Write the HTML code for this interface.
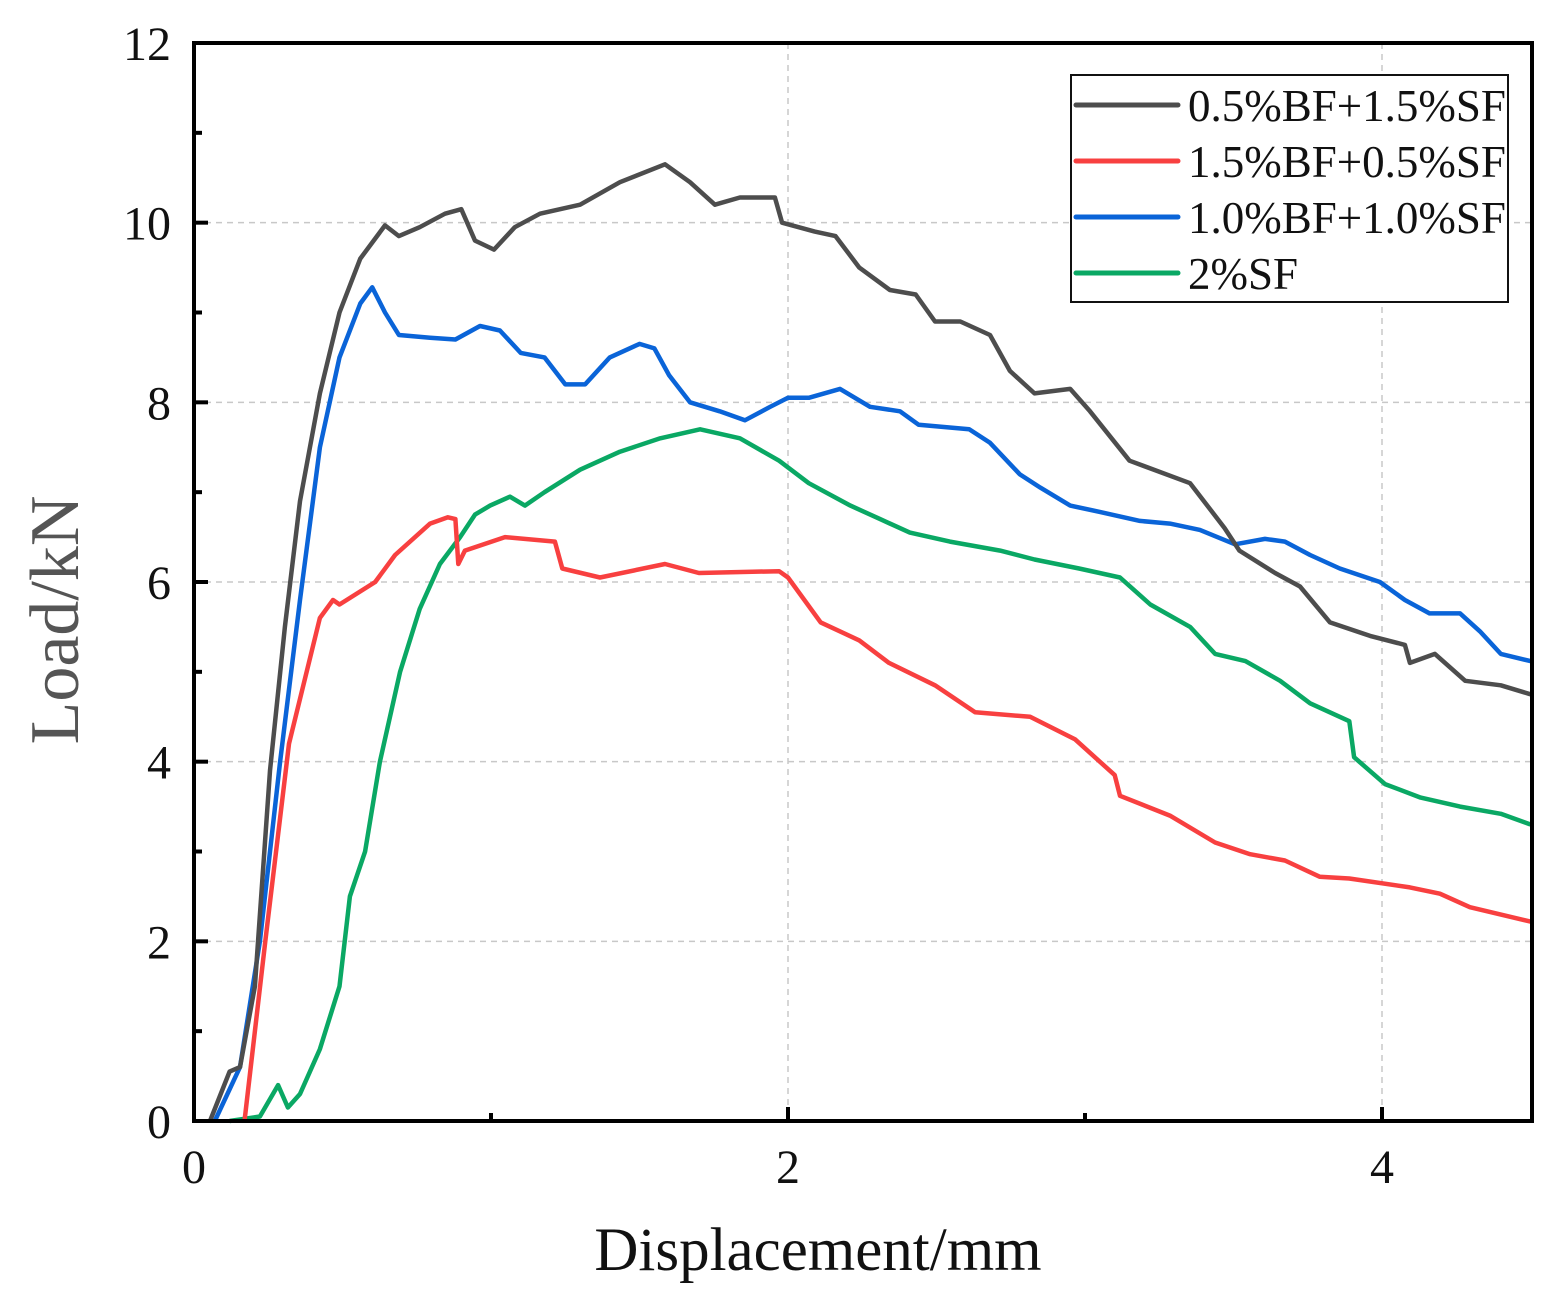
<!DOCTYPE html>
<html><head><meta charset="utf-8"><style>
html,body{margin:0;padding:0;background:#fff}
svg{display:block}
text{font-family:"Liberation Serif",serif}
</style></head><body>
<svg id="chart" width="1553" height="1302" viewBox="0 0 1553 1302" xmlns="http://www.w3.org/2000/svg">
<g id="grid"></g>
<g id="series"></g>
<rect x="194" y="43" width="1338" height="1078" fill="none" stroke="#000" stroke-width="4"/>
<g id="ticks"></g>
<text x="818" y="1270" font-size="61" text-anchor="middle" fill="#111">Displacement/mm</text>
<text transform="translate(78,620) rotate(-90)" font-size="70" text-anchor="middle" fill="#555">Load/kN</text>
<g>
<rect x="1071" y="75" width="437" height="227" fill="#fff" stroke="#111" stroke-width="2"/>
<g id="legend-items"></g>
</g>
</svg>
<script>
const xTicks=[0,2,4];
const xMinor=[1,3];
const yTicks=[0,2,4,6,8,10,12];
const yMinor=[1,3,5,7,9,11];
const seriesNames=["0.5%BF+1.5%SF","1.5%BF+0.5%SF","1.0%BF+1.0%SF","2%SF"];
const seriesColors=["#4d4d4d","#f84040","#0a64d8","#0aa864"];
const blackX=[0.054,0.12,0.155,0.205,0.256,0.306,0.357,0.424,0.49,0.56,0.643,0.69,0.76,0.845,0.9,0.946,1.01,1.08,1.165,1.3,1.434,1.586,1.67,1.754,1.838,1.956,1.98,2.09,2.16,2.24,2.343,2.43,2.495,2.58,2.68,2.747,2.83,2.95,3.017,3.15,3.354,3.47,3.52,3.64,3.724,3.825,3.96,4.077,4.094,4.178,4.28,4.4,4.5];
const blackY=[0,0.55,0.6,1.5,3.9,5.5,6.9,8.1,9.0,9.6,9.97,9.85,9.95,10.1,10.15,9.8,9.7,9.95,10.1,10.2,10.45,10.65,10.45,10.2,10.28,10.28,10.0,9.9,9.85,9.5,9.25,9.2,8.9,8.9,8.75,8.35,8.1,8.15,7.9,7.35,7.1,6.6,6.35,6.1,5.95,5.55,5.4,5.3,5.1,5.2,4.9,4.85,4.75];
const redX=[0.17,0.24,0.32,0.424,0.468,0.49,0.61,0.677,0.795,0.855,0.88,0.89,0.912,1.047,1.215,1.24,1.367,1.586,1.7,1.97,2.0,2.11,2.24,2.34,2.495,2.63,2.815,2.966,3.1,3.118,3.286,3.438,3.556,3.673,3.79,3.89,4.094,4.195,4.296,4.5];
const redY=[0,2.0,4.2,5.6,5.8,5.75,6.0,6.3,6.65,6.72,6.7,6.2,6.35,6.5,6.45,6.15,6.05,6.2,6.1,6.12,6.05,5.55,5.35,5.1,4.85,4.55,4.5,4.25,3.85,3.62,3.4,3.1,2.97,2.9,2.72,2.7,2.6,2.53,2.38,2.22];
const blueX=[0.07,0.155,0.222,0.29,0.357,0.424,0.49,0.56,0.6,0.643,0.69,0.795,0.88,0.963,1.03,1.1,1.18,1.25,1.317,1.4,1.5,1.55,1.6,1.67,1.77,1.855,1.94,2.0,2.07,2.175,2.276,2.377,2.44,2.61,2.68,2.78,2.85,2.95,3.05,3.185,3.286,3.387,3.505,3.606,3.673,3.758,3.858,3.993,4.077,4.16,4.263,4.33,4.4,4.5];
const blueY=[0,0.6,2.0,4.0,5.8,7.5,8.5,9.1,9.28,9.0,8.75,8.72,8.7,8.85,8.8,8.55,8.5,8.2,8.2,8.5,8.65,8.6,8.3,8.0,7.9,7.8,7.95,8.05,8.05,8.15,7.95,7.9,7.75,7.7,7.55,7.2,7.05,6.85,6.78,6.68,6.65,6.58,6.42,6.48,6.45,6.3,6.15,6.0,5.8,5.65,5.65,5.45,5.2,5.12];
const greenX=[0.12,0.222,0.283,0.316,0.357,0.424,0.49,0.525,0.576,0.626,0.694,0.76,0.828,0.896,0.946,0.997,1.064,1.114,1.18,1.3,1.434,1.57,1.704,1.838,1.97,2.07,2.21,2.31,2.41,2.545,2.714,2.83,2.98,3.118,3.22,3.354,3.438,3.54,3.657,3.758,3.89,3.906,4.01,4.13,4.263,4.4,4.5];
const greenY=[0,0.05,0.4,0.15,0.3,0.8,1.5,2.5,3.0,4.0,5.0,5.7,6.2,6.5,6.75,6.85,6.95,6.85,7.0,7.25,7.45,7.6,7.7,7.6,7.35,7.1,6.85,6.7,6.55,6.45,6.35,6.25,6.15,6.05,5.75,5.5,5.2,5.12,4.9,4.65,4.45,4.05,3.75,3.6,3.5,3.42,3.3];

const NS="http://www.w3.org/2000/svg";
const L=194,R=1532,T=43,B=1121,XMAX=(R-L)/297,YMAX=12;
function sx(v){return L+v/XMAX*(R-L);}
function sy(v){return B-v/YMAX*(B-T);}
function mk(tag,attrs,parent){const e=document.createElementNS(NS,tag);for(const k in attrs)e.setAttribute(k,attrs[k]);parent.appendChild(e);return e;}
const grid=document.getElementById('grid'),ticks=document.getElementById('ticks'),ser=document.getElementById('series'),leg=document.getElementById('legend-items');
xTicks.forEach(v=>{
  if(v>0){const g=mk('line',{x1:sx(v),x2:sx(v),y1:T,y2:B,stroke:'#c8c8c8','stroke-width':1.5,'stroke-dasharray':'6,5'},grid);
  
  }
  const t=mk('line',{x1:sx(v),x2:sx(v),y1:B,y2:B-14,stroke:'#000','stroke-width':4},ticks);
  
  
  const lb=mk('text',{x:sx(v),y:1183,'font-size':48,'text-anchor':'middle',fill:'#111'},ticks);
  lb.textContent=v;
  
  
});
xMinor.forEach(v=>{const t=mk('line',{x1:sx(v),x2:sx(v),y1:B,y2:B-8,stroke:'#000','stroke-width':4},ticks);
  
  });
yTicks.forEach(v=>{
  if(v>0&&v<12){const g=mk('line',{x1:L,x2:R,y1:sy(v),y2:sy(v),stroke:'#c8c8c8','stroke-width':1.5,'stroke-dasharray':'6,5'},grid);
  
  }
  const t=mk('line',{x1:L,x2:L+14,y1:sy(v),y2:sy(v),stroke:'#000','stroke-width':4},ticks);
  
  
  const lb=mk('text',{x:171,y:sy(v)+17,'font-size':48,'text-anchor':'end',fill:'#111'},ticks);
  lb.textContent=v;
  
  
});
yMinor.forEach(v=>{const t=mk('line',{x1:L,x2:L+8,y1:sy(v),y2:sy(v),stroke:'#000','stroke-width':4},ticks);
  
  });
const allX=[blackX,redX,blueX,greenX],allY=[blackY,redY,blueY,greenY];
const order=[3,1,2,0];
order.forEach(i=>{
  const d=allX[i].map((x,j)=>(j?'L':'M')+sx(x).toFixed(1)+','+sy(allY[i][j]).toFixed(1)).join('');
  const p=mk('path',{d:d,fill:'none',stroke:seriesColors[i],'stroke-width':4.5,'stroke-linejoin':'round'},ser);
  
  
});
seriesNames.forEach((n,i)=>{
  const y=105+i*56;
  const l=mk('line',{x1:1076,x2:1178,y1:y,y2:y,stroke:seriesColors[i],'stroke-width':5,'stroke-linecap':'round'},leg);
  
  
  const t=mk('text',{x:1188,y:y+16,'font-size':45,fill:'#111'},leg);
  t.textContent=n;
  
  
});
</script>
</body></html>
